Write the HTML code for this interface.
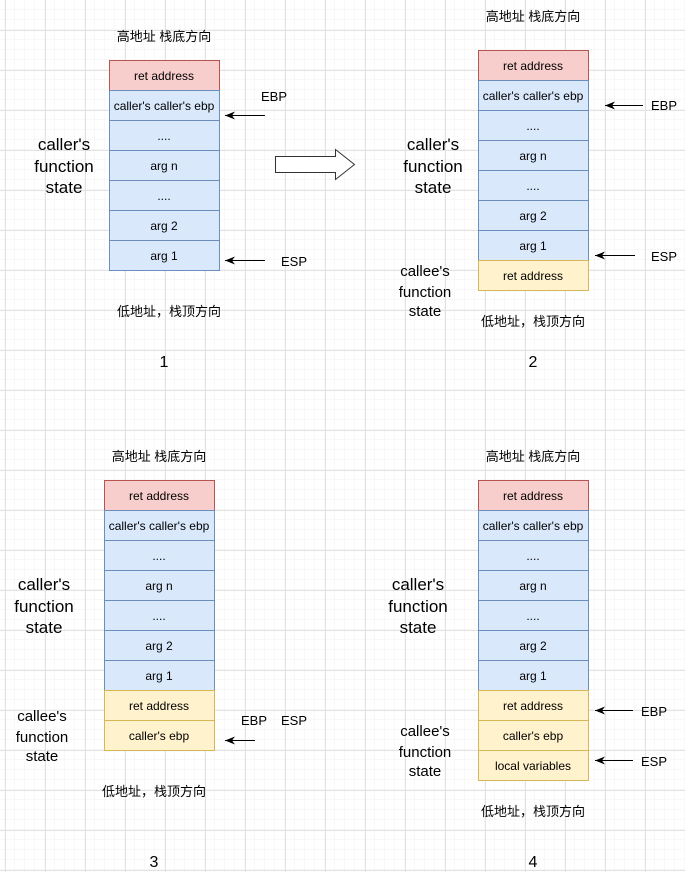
<!DOCTYPE html>
<html><head><meta charset="utf-8"><style>
html,body{margin:0;padding:0;background:#fff}
svg{display:block}
text{font-family:"Liberation Sans","Noto Sans CJK SC",sans-serif;fill:#000}
.cj{font-size:13px}
</style></head><body>
<svg width="685" height="872" xmlns="http://www.w3.org/2000/svg">
<defs>
<pattern id="mn" x="5" y="0" width="10" height="10" patternUnits="userSpaceOnUse"><path d="M10 0V10M0 10H10" stroke="#f2f2f2" stroke-width="1" fill="none"/></pattern>
<pattern id="mj" x="5" y="30" width="40" height="40" patternUnits="userSpaceOnUse"><path d="M0.5 0V40M0 0.5H40" stroke="#e2e2e2" stroke-width="1" fill="none"/></pattern>
<marker id="ah" markerWidth="10" markerHeight="8" refX="10" refY="4" orient="auto" markerUnits="userSpaceOnUse"><path d="M0 0L10 4L0 8L3 4Z" fill="#000"/></marker>
</defs>
<rect width="685" height="872" fill="url(#mn)"/>
<rect width="685" height="872" fill="url(#mj)"/>
<g font-size="12" text-anchor="middle" stroke-width="1">
<!-- D1 -->
<rect x="109.5" y="60.5" width="110" height="30" fill="#f8cecc" stroke="#b85450"/>
<g fill="#dae8fc" stroke="#6c8ebf">
<rect x="109.5" y="90.5" width="110" height="30"/><rect x="109.5" y="120.5" width="110" height="30"/><rect x="109.5" y="150.5" width="110" height="30"/><rect x="109.5" y="180.5" width="110" height="30"/><rect x="109.5" y="210.5" width="110" height="30"/><rect x="109.5" y="240.5" width="110" height="30"/></g>
<text x="164" y="80">ret address</text><text x="164" y="110">caller's caller's ebp</text><text x="164" y="140">....</text><text x="164" y="170">arg n</text><text x="164" y="200">....</text><text x="164" y="230">arg 2</text><text x="164" y="260">arg 1</text>
<text class="cj" x="164" y="41">高地址 栈底方向</text><text class="cj" x="169" y="316">低地址，栈顶方向</text>
<text x="164" y="367" font-size="16">1</text>
<g font-size="17"><text x="64" y="150">caller's</text><text x="64" y="172">function</text><text x="64" y="193">state</text></g>
<text x="274" y="101" font-size="13">EBP</text><text x="294" y="266" font-size="13">ESP</text>
<line x1="265" y1="115.5" x2="225" y2="115.5" stroke="#000" marker-end="url(#ah)"/>
<line x1="265" y1="260.5" x2="225" y2="260.5" stroke="#000" marker-end="url(#ah)"/>
<path d="M275.5 156.5H335.5V149.5L354.5 164.5L335.5 179.5V172.5H275.5Z" fill="#fff" stroke="#333"/>
<!-- D2 -->
<rect x="478.5" y="50.5" width="110" height="30" fill="#f8cecc" stroke="#b85450"/>
<g fill="#dae8fc" stroke="#6c8ebf">
<rect x="478.5" y="80.5" width="110" height="30"/><rect x="478.5" y="110.5" width="110" height="30"/><rect x="478.5" y="140.5" width="110" height="30"/><rect x="478.5" y="170.5" width="110" height="30"/><rect x="478.5" y="200.5" width="110" height="30"/><rect x="478.5" y="230.5" width="110" height="30"/></g>
<rect x="478.5" y="260.5" width="110" height="30" fill="#fff2cc" stroke="#d6b656"/>
<text x="533" y="70">ret address</text><text x="533" y="100">caller's caller's ebp</text><text x="533" y="130">....</text><text x="533" y="160">arg n</text><text x="533" y="190">....</text><text x="533" y="220">arg 2</text><text x="533" y="250">arg 1</text><text x="533" y="280">ret address</text>
<text class="cj" x="533" y="21">高地址 栈底方向</text><text class="cj" x="533" y="326">低地址，栈顶方向</text>
<text x="533" y="367" font-size="16">2</text>
<g font-size="17"><text x="433" y="150">caller's</text><text x="433" y="172">function</text><text x="433" y="193">state</text></g>
<g font-size="15"><text x="425" y="276">callee's</text><text x="425" y="297">function</text><text x="425" y="316">state</text></g>
<text x="664" y="110" font-size="13">EBP</text><text x="664" y="261" font-size="13">ESP</text>
<line x1="643" y1="105.5" x2="605" y2="105.5" stroke="#000" marker-end="url(#ah)"/>
<line x1="635" y1="255.5" x2="595" y2="255.5" stroke="#000" marker-end="url(#ah)"/>
<!-- D3 -->
<rect x="104.5" y="480.5" width="110" height="30" fill="#f8cecc" stroke="#b85450"/>
<g fill="#dae8fc" stroke="#6c8ebf">
<rect x="104.5" y="510.5" width="110" height="30"/><rect x="104.5" y="540.5" width="110" height="30"/><rect x="104.5" y="570.5" width="110" height="30"/><rect x="104.5" y="600.5" width="110" height="30"/><rect x="104.5" y="630.5" width="110" height="30"/><rect x="104.5" y="660.5" width="110" height="30"/></g>
<g fill="#fff2cc" stroke="#d6b656"><rect x="104.5" y="690.5" width="110" height="30"/><rect x="104.5" y="720.5" width="110" height="30"/></g>
<text x="159" y="500">ret address</text><text x="159" y="530">caller's caller's ebp</text><text x="159" y="560">....</text><text x="159" y="590">arg n</text><text x="159" y="620">....</text><text x="159" y="650">arg 2</text><text x="159" y="680">arg 1</text><text x="159" y="710">ret address</text><text x="159" y="740">caller's ebp</text>
<text class="cj" x="159" y="461">高地址 栈底方向</text><text class="cj" x="154" y="796">低地址，栈顶方向</text>
<text x="154" y="867" font-size="16">3</text>
<g font-size="17"><text x="44" y="590">caller's</text><text x="44" y="612">function</text><text x="44" y="633">state</text></g>
<g font-size="15"><text x="42" y="721">callee's</text><text x="42" y="742">function</text><text x="42" y="761">state</text></g>
<text x="254" y="725" font-size="13">EBP</text><text x="294" y="725" font-size="13">ESP</text>
<line x1="255" y1="740.5" x2="225" y2="740.5" stroke="#000" marker-end="url(#ah)"/>
<!-- D4 -->
<rect x="478.5" y="480.5" width="110" height="30" fill="#f8cecc" stroke="#b85450"/>
<g fill="#dae8fc" stroke="#6c8ebf">
<rect x="478.5" y="510.5" width="110" height="30"/><rect x="478.5" y="540.5" width="110" height="30"/><rect x="478.5" y="570.5" width="110" height="30"/><rect x="478.5" y="600.5" width="110" height="30"/><rect x="478.5" y="630.5" width="110" height="30"/><rect x="478.5" y="660.5" width="110" height="30"/></g>
<g fill="#fff2cc" stroke="#d6b656"><rect x="478.5" y="690.5" width="110" height="30"/><rect x="478.5" y="720.5" width="110" height="30"/><rect x="478.5" y="750.5" width="110" height="30"/></g>
<text x="533" y="500">ret address</text><text x="533" y="530">caller's caller's ebp</text><text x="533" y="560">....</text><text x="533" y="590">arg n</text><text x="533" y="620">....</text><text x="533" y="650">arg 2</text><text x="533" y="680">arg 1</text><text x="533" y="710">ret address</text><text x="533" y="740">caller's ebp</text><text x="533" y="770">local variables</text>
<text class="cj" x="533" y="461">高地址 栈底方向</text><text class="cj" x="533" y="816">低地址，栈顶方向</text>
<text x="533" y="867" font-size="16">4</text>
<g font-size="17"><text x="418" y="590">caller's</text><text x="418" y="612">function</text><text x="418" y="633">state</text></g>
<g font-size="15"><text x="425" y="736">callee's</text><text x="425" y="757">function</text><text x="425" y="776">state</text></g>
<text x="654" y="716" font-size="13">EBP</text><text x="654" y="766" font-size="13">ESP</text>
<line x1="633" y1="710.5" x2="595" y2="710.5" stroke="#000" marker-end="url(#ah)"/>
<line x1="633" y1="760.5" x2="595" y2="760.5" stroke="#000" marker-end="url(#ah)"/>
</g>
</svg>
</body></html>
